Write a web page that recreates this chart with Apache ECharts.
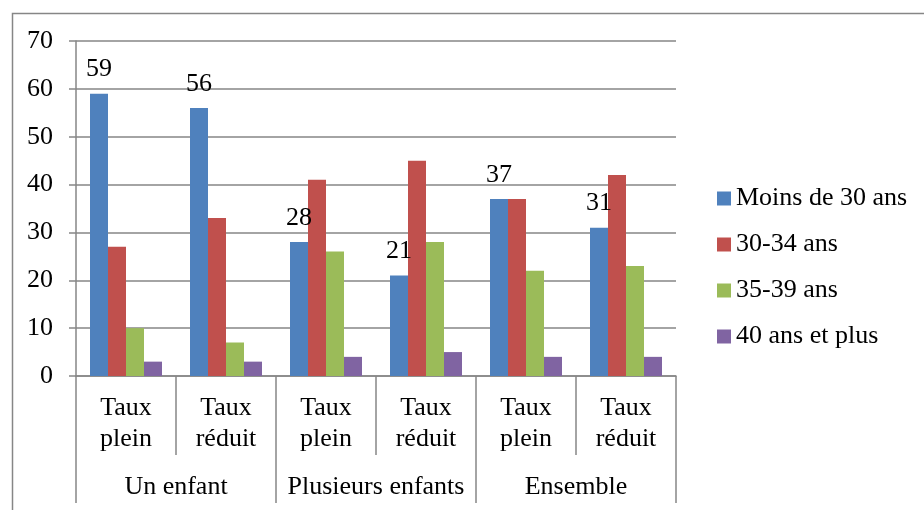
<!DOCTYPE html>
<html>
<head>
<meta charset="utf-8">
<script src="https://cdn.jsdelivr.net/npm/echarts@6/dist/echarts.min.js"></script>
<style>
html,body{margin:0;padding:0;background:#fff;}
#c{width:924px;height:510px;}
</style>
</head>
<body>
<div id="c"></div>
<script>
var categories = ['Taux\nplein', 'Taux\nréduit', 'Taux\nplein', 'Taux\nréduit', 'Taux\nplein', 'Taux\nréduit'];
var groups = ['Un enfant', 'Plusieurs enfants', 'Ensemble'];
var seriesNames = ['Moins de 30 ans', '30-34 ans', '35-39 ans', '40 ans et plus'];
var moins30 = [59, 56, 28, 21, 37, 31];
var a30_34 = [27, 33, 41, 45, 37, 42];
var a35_39 = [10, 7, 26, 28, 22, 23];
var a40plus = [3, 3, 4, 5, 4, 4];
var yTicks = [0, 10, 20, 30, 40, 50, 60, 70];

var FONT = 'Liberation Serif';
var AX = '#868686';
var colors = ['#4F81BD', '#C0504D', '#9BBB59', '#8064A2'];
var values = [moins30, a30_34, a35_39, a40plus];

var chart = echarts.init(document.getElementById('c'), null, {renderer: 'canvas'});
var series = seriesNames.map(function (n, i) {
  var s = {
    name: n,
    type: 'bar',
    xAxisIndex: 0,
    data: values[i],
    barWidth: 18,
    barGap: '0%',
    itemStyle: {color: colors[i]},
    animation: false
  };
  if (i === 0) {
    s.label = {show: true, position: 'top', distance: 11, color: '#000', fontFamily: FONT, fontSize: 26};
  }
  return s;
});

chart.setOption({
  animation: false,
  color: colors,
  textStyle: {fontFamily: FONT},
  graphic: [{
    type: 'rect', left: 10, top: 11, z: -1,
    shape: {x: 0, y: 0, width: 940, height: 520},
    style: {fill: 'none', stroke: AX, lineWidth: 1.5}
  }],
  grid: {left: 76, top: 41, right: 248, bottom: 134, containLabel: false},
  legend: {
    orient: 'vertical', left: 712, top: 180, icon: 'rect',
    itemWidth: 14, itemHeight: 14, itemGap: 19,
    textStyle: {fontFamily: FONT, fontSize: 26, color: '#000', lineHeight: 27},
    data: seriesNames
  },
  xAxis: [{
    type: 'category', data: categories, position: 'bottom',
    axisLine: {show: true, lineStyle: {color: AX, width: 1.5}},
    axisTick: {show: true, length: 79, interval: 0, lineStyle: {color: AX, width: 1.5}},
    axisLabel: {interval: 0, margin: 17, color: '#000', fontFamily: FONT, fontSize: 26, lineHeight: 31},
    splitLine: {show: false}
  }, {
    type: 'category', data: groups, position: 'bottom',
    axisLine: {show: false},
    axisTick: {show: true, length: 127, interval: 0, lineStyle: {color: AX, width: 1.5}},
    axisLabel: {interval: 0, margin: 96, color: '#000', fontFamily: FONT, fontSize: 26, lineHeight: 31},
    splitLine: {show: false}
  }],
  yAxis: {
    type: 'value', min: yTicks[0], max: yTicks[yTicks.length - 1], interval: 10,
    axisLine: {show: true, lineStyle: {color: AX, width: 1.5}},
    axisTick: {show: true, length: 7, lineStyle: {color: AX, width: 1.5}},
    axisLabel: {margin: 23, color: '#000', fontFamily: FONT, fontSize: 26},
    splitLine: {show: true, lineStyle: {color: AX, width: 1.5}}
  },
  series: series
});
</script>
</body>
</html>
